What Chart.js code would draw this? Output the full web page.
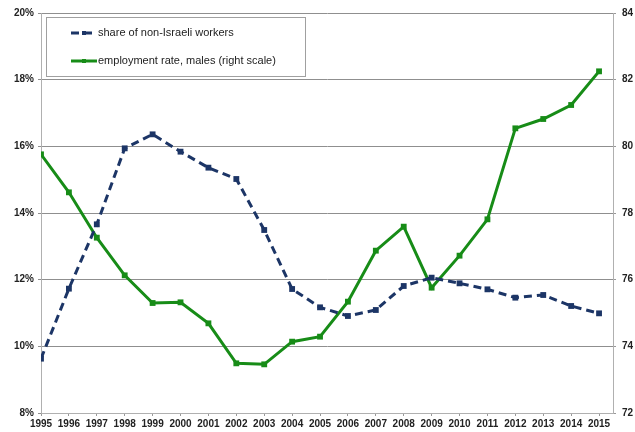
<!DOCTYPE html>
<html>
<head>
<meta charset="utf-8">
<script src="https://cdn.jsdelivr.net/npm/chart.js@4"></script>
<style>
  html, body { margin: 0; padding: 0; background: #fff; }
  #wrap { width: 635px; height: 432px; }
</style>
</head>
<body>
<div id="wrap"><canvas id="chart" width="635" height="432"></canvas></div>
<script>
var years = [1995, 1996, 1997, 1998, 1999, 2000, 2001, 2002, 2003, 2004, 2005,
             2006, 2007, 2008, 2009, 2010, 2011, 2012, 2013, 2014, 2015];
var nonIsraeliShare = [9.63, 11.73, 13.66, 15.94, 16.36, 15.84, 15.36, 15.02, 13.49, 11.72, 11.17,
                       10.91, 11.09, 11.81, 12.06, 11.89, 11.71, 11.46, 11.54, 11.21, 10.99];
var employmentMales = [79.76, 78.62, 77.26, 76.13, 75.30, 75.32, 74.69, 73.49, 73.46, 74.14, 74.29,
                       75.34, 76.87, 77.59, 75.76, 76.72, 77.81, 80.54, 80.82, 81.24, 82.25];
var seriesNames = ['share of non-Israeli workers', 'employment rate, males (right scale)'];
var leftTicks = [8, 10, 12, 14, 16, 18, 20];
var rightTicks = [72, 74, 76, 78, 80, 82, 84];

var BLUE = '#1c3566';
var GREEN = '#178c17';
var FONT = '"Liberation Sans", Arial, sans-serif';

function pts(vals) {
  return vals.map(function(v, i) { return { x: years[i], y: v }; });
}

// legend box drawn inside the plot, like the original
var boxLegend = {
  id: 'boxLegend',
  afterDraw: function(chart) {
    var c = chart.ctx;
    c.save();
    c.fillStyle = '#fff';
    c.fillRect(46, 17, 259, 59);
    c.strokeStyle = '#a0a0a0';
    c.lineWidth = 1;
    c.strokeRect(46.5, 17.5, 259, 59);
    var rows = [33, 61];
    chart.data.datasets.forEach(function(ds, i) {
      var y = rows[i];
      c.strokeStyle = ds.borderColor;
      c.lineWidth = 3;
      c.setLineDash(ds.borderDash || []);
      c.beginPath();
      c.moveTo(71, y);
      c.lineTo(97, y);
      c.stroke();
      c.setLineDash([]);
      c.fillStyle = ds.borderColor;
      c.fillRect(82, y - 2, 4, 4);
      c.fillStyle = '#222';
      c.font = '11px ' + FONT;
      c.textBaseline = 'middle';
      c.textAlign = 'left';
      c.fillText(seriesNames[i], 98, y);
    });
    c.restore();
  }
};

new Chart(document.getElementById('chart'), {
  type: 'line',
  data: {
    datasets: [{
      label: seriesNames[0],
      data: pts(nonIsraeliShare),
      yAxisID: 'yL',
      borderColor: BLUE,
      backgroundColor: BLUE,
      borderWidth: 3,
      borderDash: [8, 5],
      pointStyle: 'rect',
      pointRadius: 2,
      tension: 0
    }, {
      label: seriesNames[1],
      data: pts(employmentMales),
      yAxisID: 'yR',
      borderColor: GREEN,
      backgroundColor: GREEN,
      borderWidth: 3,
      pointStyle: 'rect',
      pointRadius: 2,
      tension: 0
    }]
  },
  options: {
    responsive: false,
    animation: false,
    layout: { padding: { top: 13, left: 0, right: 0, bottom: 0 } },
    plugins: { legend: { display: false }, tooltip: { enabled: false } },
    scales: {
      x: {
        type: 'linear',
        min: 1995,
        max: 2015.5,
        afterBuildTicks: function(s) {
          s.ticks = years.map(function(y) { return { value: y }; });
        },
        afterFit: function(s) { s.height = 19; },
        grid: { drawOnChartArea: false, drawTicks: true, tickLength: 3, color: '#999' },
        border: { color: '#b0b0b0' },
        ticks: {
          padding: 2,
          maxRotation: 0,
          autoSkip: false,
          color: '#222',
          font: { family: FONT, size: 10, weight: 'bold' },
          callback: function(v) { return String(v); }
        }
      },
      yL: {
        position: 'left',
        min: 8,
        max: 20,
        afterBuildTicks: function(s) {
          s.ticks = leftTicks.map(function(v) { return { value: v }; });
        },
        afterFit: function(s) { s.width = 41; },
        grid: { color: '#8f8f8f', lineWidth: 1, tickLength: 3 },
        border: { color: '#b0b0b0' },
        ticks: {
          padding: 4,
          color: '#222',
          font: { family: FONT, size: 10, weight: 'bold' },
          callback: function(v) { return v + '%'; }
        }
      },
      yR: {
        position: 'right',
        min: 72,
        max: 84,
        afterBuildTicks: function(s) {
          s.ticks = rightTicks.map(function(v) { return { value: v }; });
        },
        afterFit: function(s) { s.width = 22; },
        grid: { drawOnChartArea: false, tickLength: 3, color: '#999' },
        border: { color: '#b0b0b0' },
        ticks: {
          padding: 6,
          color: '#222',
          font: { family: FONT, size: 10, weight: 'bold' }
        }
      }
    }
  },
  plugins: [boxLegend]
});
</script>
</body>
</html>
